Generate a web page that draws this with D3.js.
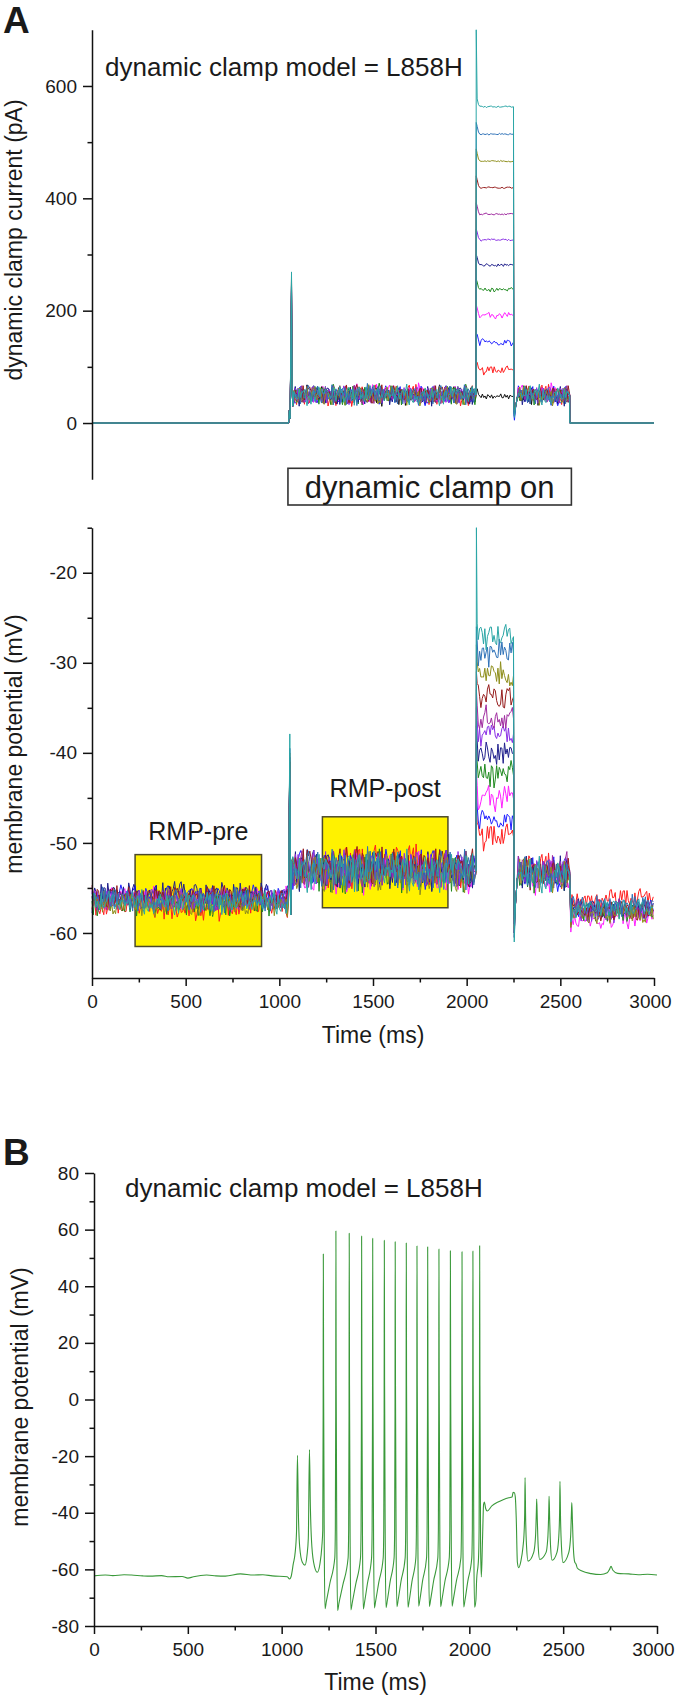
<!DOCTYPE html>
<html><head><meta charset="utf-8">
<script src="https://cdn.jsdelivr.net/npm/d3@7"></script>
<style>
body{margin:0;background:#fff}
svg{display:block}
text{font-family:"Liberation Sans",Arial,Helvetica,sans-serif;fill:#1a1a1a}
</style>
</head><body>
<svg id="c" width="676" height="1699"></svg>
<script>
// ---------- data ----------
const timeTicks = [0, 500, 1000, 1500, 2000, 2500, 3000];
const timeMinorTicks = [250, 750, 1250, 1750, 2250, 2750];
const currentTicks = [0, 200, 400, 600];
const currentMinorTicks = [100, 300, 500];
const vmTicksA = [-60, -50, -40, -30, -20];
const vmMinorTicksA = [-55, -45, -35, -25, -15];
const vmTicksB = [-80, -60, -40, -20, 0, 20, 40, 60, 80];
const vmMinorTicksB = [-70, -50, -30, -10, 10, 30, 50, 70];

// trace colours (black, red, blue, magenta, green, navy, violet, purple, wine, olive, steel blue, dark cyan)
const traceColors = ["#111111","#ff1f1f","#1f1fff","#ff1fff","#1f8a1f","#1f1f8c","#8a30e6","#a02ca0","#961c1c","#8f8f1c","#2f72b8","#2aa6a6"];

// top panel: dynamic clamp current (pA)
const currentClampMean = [49, 50, 48, 51, 50, 49, 50, 48, 51, 49, 50, 50];
const currentOnSpike   = [235, 228, 246, 240, 252, 247, 238, 258, 244, 262, 255, 269];
const currentStepLevels= [47, 94, 144, 191, 237, 281, 326, 372, 419, 466, 514, 563];
const currentOnsetPeaks= [52, 106, 160, 210, 256, 300, 345, 392, 440, 488, 535, 700];
const currentStepNoise = [6, 8, 9, 6, 4, 3, 2.5, 2, 1.5, 1.5, 1.5, 1.5];
const currentOffDip    = [30, 18, 5, 20, 25, 12, 28, 22, 26, 24, 15, 10];
const currentClampNoise = 19;

// bottom panel A: membrane potential (mV), traces red ... dark cyan
const vmPre    = [-57.2, -56.0, -56.3, -56.8, -55.6, -56.2, -56.5, -56.0, -56.8, -56.4, -56.6];
const vmSpike  = [-44, -42, -43, -41, -40.5, -42, -43, -41, -40, -39.5, -37.9];
const vmPost   = [-52.5, -53.0, -53.5, -53.3, -53.0, -52.8, -53.2, -52.6, -53.4, -53.0, -53.1];
const vmOnset  = [-46, -44, -42, -39, -37, -35, -33, -31, -28, -26, -15];
const vmStep   = [-49.3, -47.4, -45.1, -42.5, -40.1, -37.9, -36.2, -33.8, -31.4, -29.0, -27.1];
const vmOffDip = [-58, -59, -60, -58.5, -60.5, -59, -58, -60, -59.5, -60, -61];
const vmAfter  = [-53.2, -53.5, -54.3, -53.6, -53.2, -53.4, -53.0, -53.4, -53.5, -53.2, -53.6];
const vmFinal  = [-56.2, -57.5, -58.4, -57.6, -57.3, -57.8, -57.4, -57.6, -57.9, -57.0, -57.3];
const vmNoise  = {pre: 1.4, post: 2.4, step: 1.5, after: 2.1, fin: 1.2};

// RMP windows [t0, t1, vLow, vHigh]
const rmpPre  = [230, 905, -61.5, -51.3];
const rmpPost = [1230, 1900, -57.2, -47.1];
const clampOnWindow = [1046, 2559];

// hand-estimated noise deviations (unit amplitude)
const noisePattern = [0.31,-0.52,0.84,-0.18,0.07,-0.91,0.63,0.22,-0.41,0.72,
 -0.69,0.04,0.55,-0.33,0.93,-0.58,0.19,-0.12,0.44,-0.81,
 0.61,-0.24,0.13,0.74,-0.47,0.28,-0.88,0.39,-0.06,0.82,
 -0.37,0.17,-0.63,0.51,0.02,-0.29,0.96,-0.72,0.34,-0.21,
 0.58,-0.49,0.09,0.43,-0.79,0.68,-0.14,0.25,-0.57,0.47,
 -0.31,0.79,-0.94,0.12,0.29,-0.44,0.62,-0.17,-0.03,0.71,
 -0.61,0.37,-0.09,0.89,-0.53,0.21,-0.74,0.32,0.52,-0.23,
 -0.84,0.57,-0.27,0.11,0.81,-0.39,0.16,-0.92,0.49,-0.08,
 0.41,-0.64,0.73,-0.19,0.27,0.01,-0.54,0.91,-0.34,0.14,
 -0.71,0.59,-0.42,0.23,0.78,-0.86,0.48,-0.11,0.33,-0.62,0.4];
const noiseStrides = [1,3,7,11,13,17,19,23,29,31,37,41];
const noiseStrides2 = [5,9,2,14,6,22,8,27,4,33,12,45];
const noiseOffsets = [0,17,34,51,68,85,2,19,36,53,70,87];

// panel B: single recording
const bBaselinePre = [[0,-62.3],[60,-62.0],[100,-62.2],[160,-61.9],[200,-62.0],[260,-62.3],[300,-62.4],[360,-62.2],[400,-62.6],[470,-62.5],[500,-63.1],[530,-62.6],[600,-62.0],[650,-62.3],[700,-62.4],[780,-61.6],[850,-62.0],[900,-61.9],[950,-62.3],[1030,-62.6],[1042,-63.4],[1050,-62.6],[1062,-58],[1072,-54],[1079,-47]];
const bSmallSpikes = [[1084,-19.7],[1089,-40],[1096,-52],[1110,-57.5],[1124,-58.5],[1135,-55],[1142,-49],[1148,-17.7],[1153,-38],[1161,-52],[1175,-59],[1190,-61],[1204,-58],[1214,-52]];
const bSpikeTimes   = [1222, 1289, 1360, 1426, 1485, 1547, 1605, 1664, 1721, 1778, 1838, 1899, 1961, 2019, 2055];
const bSpikePeaks   = [51.4, 59.5, 58.7, 57.7, 56.9, 56.2, 55.7, 55.3, 54.2, 53.9, 53.1, 52.5, 52.2, 52.4, 54.3];
const bSpikeTroughs = [-73.9, -74.5, -74.3, -74.0, -73.6, -73.5, -73.2, -73.4, -73.0, -73.1, -73.2, -73.0, -73.3, -73.4, -62.7];
const bPlateau = [[2070,-50],[2076,-37],[2080,-36.2],[2087,-38.5],[2095,-39.4],[2120,-37.6],[2150,-36.3],[2180,-35.4],[2210,-34.7],[2228,-34.4],[2233,-32.8],[2240,-32.9],[2245,-34.5],[2250,-42],[2256,-57.5],[2263,-59.4],[2275,-57],[2286,-52]];
const bLateSpikeTimes   = [2297, 2359, 2425, 2483, 2546];
const bLateSpikePeaks   = [-27.6, -35.2, -34.2, -28.9, -36.4];
const bLateSpikeTroughs = [-57.1, -56.5, -56.8, -57.6, -57.5];
const bTail = [[2575,-59.5],[2600,-60.6],[2650,-61.5],[2700,-61.8],[2735,-61.2],[2747,-60],[2755,-58.9],[2765,-60.3],[2790,-61.4],[2850,-61.6],[2900,-61.9],[2950,-61.7],[3000,-62]];

// ---------- drawing ----------
const svg = d3.select("#c");
svg.append("rect").attr("width",676).attr("height",1699).attr("fill","#fff");

const xA = d3.scaleLinear().domain([0,3000]).range([92,654]);
const yI = d3.scaleLinear().domain([-100,700]).range([479.2,29.8]);
const yV = d3.scaleLinear().domain([-65,-15]).range([978,527.7]);
const xB = d3.scaleLinear().domain([0,3000]).range([94,657]);
const yB = d3.scaleLinear().domain([-80,80]).range([1626,1173]);

const DT = 7;
const N = noisePattern.length;
function noiseAt(t, tr){
  const k = Math.round(t/DT);
  const a = noisePattern[((k*noiseStrides[tr] + noiseOffsets[tr]) % N + N) % N];
  const b = noisePattern[((k*noiseStrides2[tr] + 3*noiseOffsets[tr] + 11) % N + N) % N];
  return 0.75*a + 0.45*b;
}
function seg(pts, t0, t1, level, amp, tr){ for(let t=t0; t<=t1; t+=DT) pts.push([t, level + amp*noiseAt(t,tr)]); }

function currentTrace(i){
  const L = currentStepLevels[i], m = currentClampMean[i];
  const p = [[0,0],[1050,0],[1053,22],[1057,8],[1062,currentOnSpike[i]*0.55],[1065,currentOnSpike[i]],[1068,60],[1072,30]];
  seg(p, 1078, 2044, m, currentClampNoise, i);
  p.push([2050,m],[2051,currentOnsetPeaks[i]],[2056,L+14],[2063,L+4]);
  seg(p, 2070, 2244, L, currentStepNoise[i], i);
  p.push([2250,L],[2252,currentOffDip[i]+10],[2255,currentOffDip[i]],[2262,30],[2270,45]);
  seg(p, 2276, 2546, m, currentClampNoise, i);
  p.push([2550,m],[2551,0],[3000,0]);
  return p;
}
function vmTrace(j){
  const tr = j+1;
  const p = [];
  seg(p, 0, 1044, vmPre[j], vmNoise.pre, tr);
  p.push([1050,vmPre[j]+1],[1053,-46],[1056,vmSpike[j]],[1059,-52],[1061,-58],[1066,-52]);
  seg(p, 1072, 2044, vmPost[j], vmNoise.post, tr);
  p.push([2050,vmPost[j]],[2052,vmOnset[j]],[2056,vmStep[j]+1.5]);
  seg(p, 2062, 2244, vmStep[j], vmNoise.step, tr);
  p.push([2250,vmStep[j]],[2254,vmOffDip[j]],[2260,-57],[2270,-54]);
  seg(p, 2276, 2546, vmAfter[j], vmNoise.after, tr);
  p.push([2550,vmAfter[j]],[2556,vmFinal[j]-1.5]);
  seg(p, 2562, 3000, vmFinal[j], vmNoise.fin, tr);
  return p;
}
function traceB(){
  const p = bBaselinePre.concat(bSmallSpikes);
  bSpikeTimes.forEach((t,i)=>{
    const pk = bSpikePeaks[i], tr = bSpikeTroughs[i];
    p.push([t-3,-46],[t-1,-5],[t,pk],[t+1.5,5],[t+5,-52],[t+9,tr]);
    const nx = bSpikeTimes[i+1];
    if(nx !== undefined){
      p.push([t+16,tr+2.5],[t+9+(nx-t-15)*0.5,tr+9],[nx-6,-56]);
    }
  });
  bPlateau.forEach(d=>p.push(d));
  bLateSpikeTimes.forEach((t,i)=>{
    const pk = bLateSpikePeaks[i], tr = bLateSpikeTroughs[i];
    p.push([t-6,-48],[t-2,-40],[t,pk],[t+3,-42],[t+8,-52],[t+16,tr]);
    const nx = bLateSpikeTimes[i+1];
    if(nx !== undefined){ p.push([nx-16,-54],[nx-8,-50]); }
    else { p.push([t+22,-58]); }
  });
  bTail.forEach(d=>p.push(d));
  return p;
}

function styleAxis(g){
  g.selectAll("path.domain").attr("stroke","#111").attr("stroke-width",1.5);
  g.selectAll(".tick line").attr("stroke","#111").attr("stroke-width",1.5);
  g.selectAll(".tick text").attr("font-size",19).attr("fill","#1a1a1a")
   .attr("font-family",'"Liberation Sans",Arial,sans-serif');
  g.attr("font-family",null).attr("font-size",null);
}
function yAxis(scale, major, minor, x){
  const g = svg.append("g").attr("transform",`translate(${x},0)`)
    .call(d3.axisLeft(scale).tickValues(major).tickSize(9).tickSizeOuter(0).tickPadding(6).tickFormat(d=>String(d)));
  styleAxis(g);
  const g2 = svg.append("g").attr("transform",`translate(${x},0)`)
    .call(d3.axisLeft(scale).tickValues(minor).tickSize(4.5).tickFormat(""));
  g2.select("path.domain").remove(); styleAxis(g2);
}
function xAxis(scale, y){
  const g = svg.append("g").attr("transform",`translate(0,${y})`)
    .call(d3.axisBottom(scale).tickValues(timeTicks).tickSize(8).tickSizeOuter(0).tickPadding(9).tickFormat(d=>String(d)));
  styleAxis(g);
  g.selectAll(".tick text").filter(d=>d===3000).attr("dx",-4);
  const g2 = svg.append("g").attr("transform",`translate(0,${y})`)
    .call(d3.axisBottom(scale).tickValues(timeMinorTicks).tickSize(4.5).tickFormat(""));
  g2.select("path.domain").remove(); styleAxis(g2);
}

// ===== Panel A top: current =====
const lineI = d3.line().x(d=>xA(d[0])).y(d=>yI(d[1]));
const gTop = svg.append("g");
traceColors.forEach((c,i)=>{
  gTop.append("path").attr("d", lineI(currentTrace(i))).attr("fill","none")
    .attr("stroke", c).attr("stroke-width",1).attr("stroke-linejoin","round");
});
yAxis(yI, currentTicks, currentMinorTicks, 92);
svg.append("text").attr("x",105).attr("y",76).attr("font-size",26).text("dynamic clamp model = L858H");
svg.append("text").attr("transform","translate(22,240) rotate(-90)").attr("text-anchor","middle").attr("font-size",23).text("dynamic clamp current (pA)");

// dynamic clamp on box
svg.append("rect").attr("x",xA(clampOnWindow[0])).attr("y",468.3)
  .attr("width",xA(clampOnWindow[1])-xA(clampOnWindow[0])).attr("height",36.7)
  .attr("fill","#fff").attr("stroke","#333").attr("stroke-width",1.6);
svg.append("text").attr("x",(xA(clampOnWindow[0])+xA(clampOnWindow[1]))/2).attr("y",497.5)
  .attr("text-anchor","middle").attr("font-size",31).text("dynamic clamp on");

// ===== Panel A bottom: membrane potential =====
[rmpPre, rmpPost].forEach(b=>{
  svg.append("rect").attr("x",xA(b[0])).attr("y",yV(b[3]))
    .attr("width",xA(b[1])-xA(b[0])).attr("height",yV(b[2])-yV(b[3]))
    .attr("fill","#fff200").attr("stroke","#4d4a2a").attr("stroke-width",1.5);
});
const lineV = d3.line().x(d=>xA(d[0])).y(d=>yV(d[1]));
traceColors.slice(1).forEach((c,j)=>{
  svg.append("path").attr("d", lineV(vmTrace(j))).attr("fill","none")
    .attr("stroke", c).attr("stroke-width",1).attr("stroke-linejoin","round");
});
svg.append("text").attr("x",(xA(rmpPre[0])+xA(rmpPre[1]))/2).attr("y",840).attr("text-anchor","middle").attr("font-size",25).text("RMP-pre");
svg.append("text").attr("x",(xA(rmpPost[0])+xA(rmpPost[1]))/2).attr("y",797).attr("text-anchor","middle").attr("font-size",25).text("RMP-post");
yAxis(yV, vmTicksA, vmMinorTicksA, 92);
xAxis(xA, 978);
svg.append("text").attr("x",(xA(0)+xA(3000))/2).attr("y",1043).attr("text-anchor","middle").attr("font-size",23).text("Time (ms)");
svg.append("text").attr("transform","translate(22,744) rotate(-90)").attr("text-anchor","middle").attr("font-size",23).text("membrane potential (mV)");

// ===== Panel B =====
const lineB = d3.line().x(d=>xB(d[0])).y(d=>yB(d[1])).curve(d3.curveMonotoneX);
svg.append("path").attr("d", lineB(traceB())).attr("fill","none")
  .attr("stroke","#3a993a").attr("stroke-width",1.1).attr("stroke-linejoin","round");
yAxis(yB, vmTicksB, vmMinorTicksB, 94);
xAxis(xB, 1626);
svg.append("text").attr("x",(xB(0)+xB(3000))/2).attr("y",1690).attr("text-anchor","middle").attr("font-size",23).text("Time (ms)");
svg.append("text").attr("transform","translate(28,1397) rotate(-90)").attr("text-anchor","middle").attr("font-size",23).text("membrane potential (mV)");
svg.append("text").attr("x",125).attr("y",1197).attr("font-size",26).text("dynamic clamp model = L858H");

// panel letters
svg.append("text").attr("x",3).attr("y",33).attr("font-size",37).attr("font-weight","bold").attr("fill","#111").text("A");
svg.append("text").attr("x",3).attr("y",1165).attr("font-size",37).attr("font-weight","bold").attr("fill","#111").text("B");
</script>
</body></html>
